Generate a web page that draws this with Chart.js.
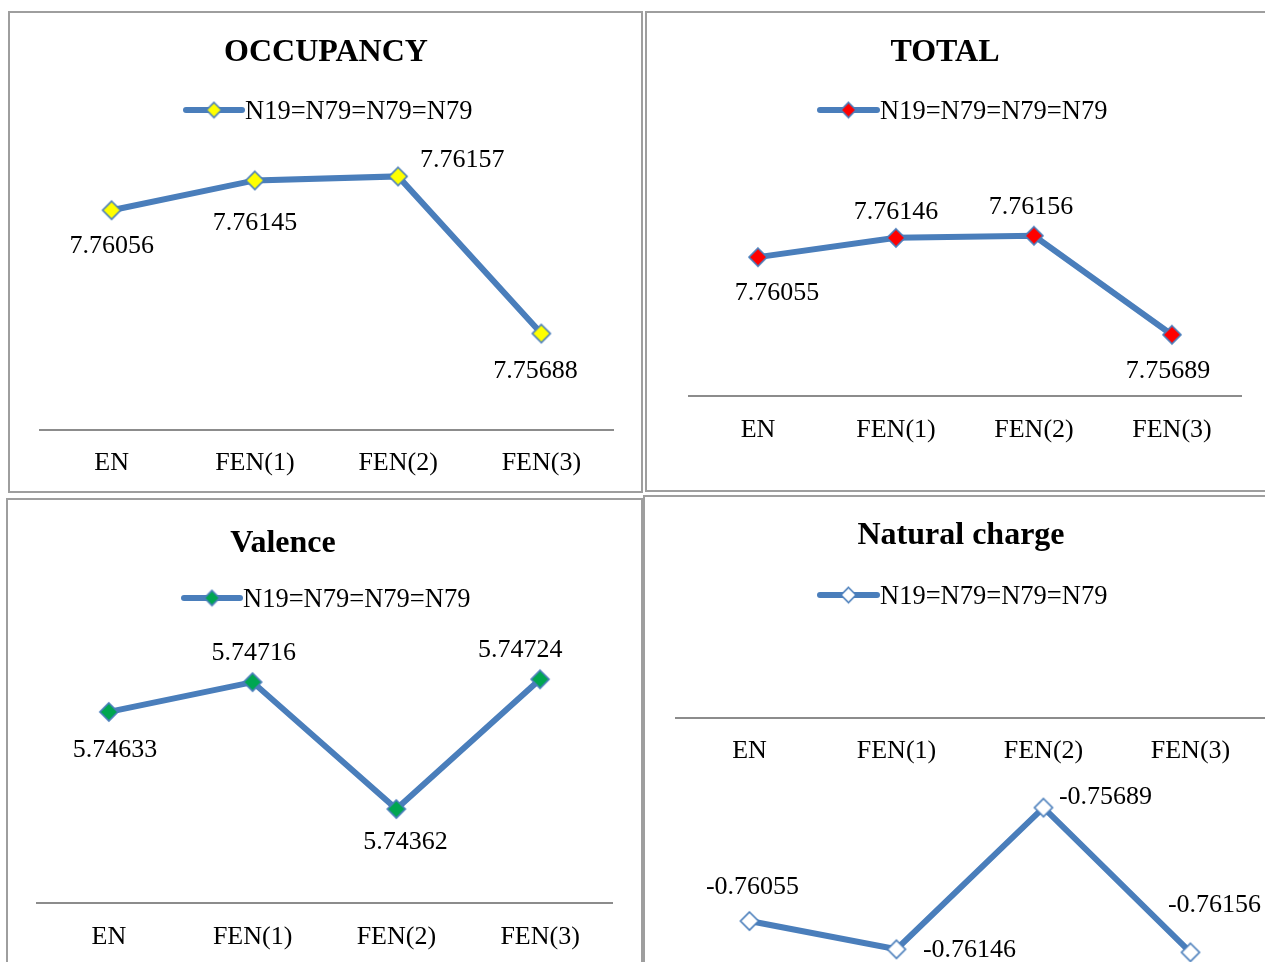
<!DOCTYPE html>
<html>
<head>
<meta charset="utf-8">
<script src="https://cdn.jsdelivr.net/npm/chart.js@4.4.0/dist/chart.umd.min.js"></script>
<style>
  html, body { margin: 0; padding: 0; background: #fff; overflow: hidden; width: 1265px; height: 962px; }
  .moldura { position: absolute; border: 2px solid #9e9e9e; box-sizing: border-box; }
  canvas { position: absolute; left: 0; top: 0; }
</style>
</head>
<body>
<div class="moldura" style="left:8px;top:11px;width:635px;height:482px"></div>
<div class="moldura" style="left:645px;top:11px;width:640px;height:481px"></div>
<div class="moldura" style="left:6px;top:498px;width:637px;height:500px"></div>
<div class="moldura" style="left:643px;top:495px;width:640px;height:500px"></div>
<canvas id="gOcc" width="1265" height="1100"></canvas>
<canvas id="gTot" width="1265" height="1100"></canvas>
<canvas id="gVal" width="1265" height="1100"></canvas>
<canvas id="gNat" width="1265" height="1100"></canvas>
<script>
// Dados
const categorias = ["EN", "FEN(1)", "FEN(2)", "FEN(3)"];
const serieNome = "N19=N79=N79=N79";
const occupancy = [7.76056, 7.76145, 7.76157, 7.75688];
const total = [7.76055, 7.76146, 7.76156, 7.75689];
const valence = [5.74633, 5.74716, 5.74362, 5.74724];
const naturalCharge = [-0.76055, -0.76146, -0.75689, -0.76156];

const azul = "#4a7ebb";
const fonte = '"Liberation Serif", "Times New Roman", serif';
const ALTURA = 1100;
const LARGURA = 1265;

// Marcador em losango
function losango(w, h, cor) {
  const c = document.createElement("canvas");
  c.width = w + 4;
  c.height = h + 4;
  const g = c.getContext("2d");
  g.beginPath();
  g.moveTo(c.width / 2, 2);
  g.lineTo(c.width - 2, c.height / 2);
  g.lineTo(c.width / 2, c.height - 2);
  g.lineTo(2, c.height / 2);
  g.closePath();
  g.fillStyle = cor;
  g.fill();
  g.lineWidth = 1.6;
  g.strokeStyle = azul;
  g.stroke();
  return c;
}

// Plugin que desenha título, legenda e rótulos dos pontos
const textoPlugin = {
  id: "textoPainel",
  afterDatasetsDraw(chart) {
    const cfg = chart.options.plugins.textoPainel;
    const ctx = chart.ctx;
    const ds = chart.data.datasets[0];
    ctx.save();

    // título
    ctx.fillStyle = "#000";
    ctx.font = "bold 32px " + fonte;
    ctx.textAlign = "center";
    ctx.textBaseline = "alphabetic";
    ctx.fillText(cfg.titulo, cfg.titulo_x, cfg.titulo_y);

    // legenda (linha + marcador + texto)
    const lg = cfg.legenda;
    ctx.strokeStyle = azul;
    ctx.lineWidth = 6;
    ctx.lineCap = "round";
    ctx.beginPath();
    ctx.moveTo(lg.x1, lg.y);
    ctx.lineTo(lg.x2, lg.y);
    ctx.stroke();
    const m = losango(15, 15, cfg.marcador);
    ctx.drawImage(m, (lg.x1 + lg.x2) / 2 - m.width / 2, lg.y - m.height / 2);
    ctx.fillStyle = "#000";
    ctx.font = "26.5px " + fonte;
    ctx.textAlign = "left";
    ctx.fillText(ds.label, lg.x2 + 3, lg.y + 9);

    // rótulos dos valores
    const meta = chart.getDatasetMeta(0);
    ctx.font = "26px " + fonte;
    ctx.textAlign = "center";
    ctx.textBaseline = "middle";
    meta.data.forEach((pt, i) => {
      const [dx, dy] = cfg.rotulos[i];
      ctx.fillText(String(ds.data[i]), pt.x + dx, pt.y + dy + 2);
    });
    ctx.restore();
  }
};

// Função para criar cada painel
function criarGrafico(id, valores, p) {
  const eixoX = {
    offset: true,
    position: p.eixoTopo ? { y: p.yMax } : "bottom",
    grid: { display: true, color: "rgba(0,0,0,0)", drawTicks: false, offset: true },
    border: { display: true, color: "#8c8c8c", width: 2 },
    ticks: { color: "#000", padding: p.padTick, font: { family: fonte, size: 26 } }
  };
  if (!p.eixoTopo) {
    eixoX.afterFit = (s) => { s.height = 60; };
  }
  const base = p.eixoTopo ? 0 : 60;

  return new Chart(document.getElementById(id), {
    type: "line",
    data: {
      labels: categorias,
      datasets: [{
        label: serieNome,
        data: valores,
        borderColor: azul,
        borderWidth: 6,
        tension: 0,
        pointStyle: losango(18, 18, p.marcador),
        pointRadius: 10,
        pointHoverRadius: 10,
        clip: false
      }]
    },
    options: {
      responsive: false,
      animation: false,
      events: [],
      layout: {
        autoPadding: false,
        padding: {
          left: p.area[0],
          top: p.area[2],
          right: LARGURA - p.area[1],
          bottom: ALTURA - p.area[3] - base
        }
      },
      plugins: {
        legend: { display: false },
        title: { display: false },
        tooltip: { enabled: false },
        textoPainel: p
      },
      scales: {
        x: eixoX,
        y: { display: false, min: p.yMin, max: p.yMax }
      }
    },
    plugins: [textoPlugin]
  });
}

criarGrafico("gOcc", occupancy, {
  titulo: "OCCUPANCY", titulo_x: 326, titulo_y: 61,
  legenda: { x1: 186, x2: 242, y: 110 },
  marcador: "#ffff00",
  area: [40, 613, 162, 430], yMin: 7.754, yMax: 7.762, padTick: 18,
  rotulos: [[0, 34], [0, 41], [64, -18], [-6, 36]]
});

criarGrafico("gTot", total, {
  titulo: "TOTAL", titulo_x: 945, titulo_y: 61,
  legenda: { x1: 820, x2: 877, y: 110 },
  marcador: "#ff0000",
  area: [689, 1241, 184, 396], yMin: 7.754, yMax: 7.764, padTick: 19,
  rotulos: [[19, 34], [0, -28], [-3, -31], [-4, 34]]
});

criarGrafico("gVal", valence, {
  titulo: "Valence", titulo_x: 283, titulo_y: 552,
  legenda: { x1: 184, x2: 240, y: 598 },
  marcador: "#00a650",
  area: [37, 612, 652, 903], yMin: 5.741, yMax: 5.748, padTick: 19,
  rotulos: [[6, 36], [1, -31], [9, 31], [-20, -31]]
});

criarGrafico("gNat", naturalCharge, {
  titulo: "Natural charge", titulo_x: 961, titulo_y: 544,
  legenda: { x1: 820, x2: 877, y: 595 },
  marcador: "#ffffff",
  area: [676, 1264, 718, 1028], yMin: -0.764, yMax: -0.754, padTick: 18,
  eixoTopo: true,
  rotulos: [[3, -36], [73, -1], [62, -12], [24, -49]]
});
</script>
</body>
</html>
